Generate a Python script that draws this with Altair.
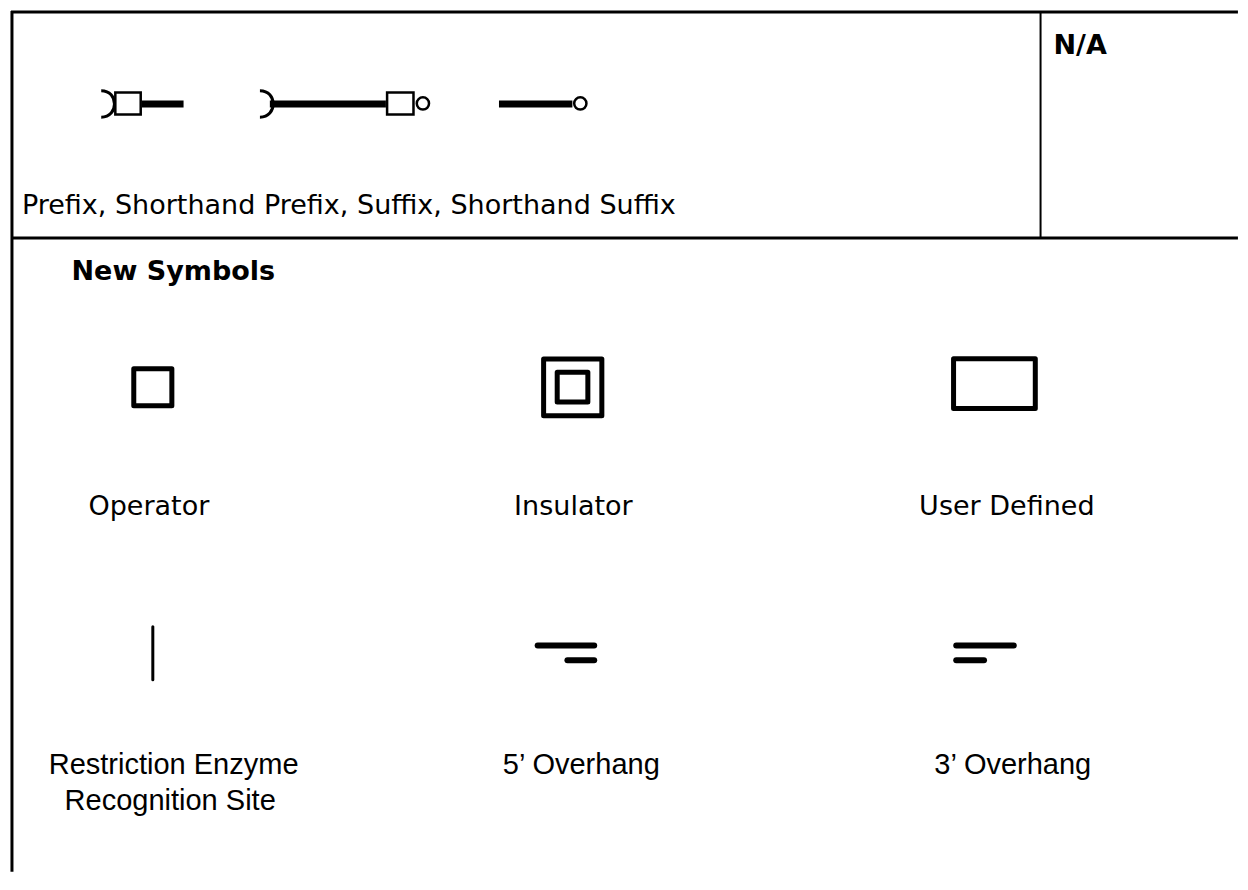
import altair as alt
import pandas as pd

# ---------------- page frame (page coordinates, y grows downward) ----------------
frame_x1 = [11, 12, 12]
frame_y1 = [12, 11, 243]
frame_x2 = [1248, 12, 1248]
frame_y2 = [12, 890, 243]
divider_x1 = [1049]
divider_y1 = [12]
divider_x2 = [1049]
divider_y2 = [243]

# ---------------- prefix / suffix glyphs (top row) ----------------
bar_x1 = [143, 272, 503]
bar_x2 = [185, 389, 577]
bar_y1 = [102.5, 102.5, 102.5]
bar_y2 = [109.5, 109.5, 109.5]

pbox_x1 = [116.2, 390.2]
pbox_x2 = [141.8, 416.8]
pbox_y1 = [94.2, 94.2]
pbox_y2 = [116.8, 116.8]

circ_x = [426.3, 585.0]
circ_y = [105.5, 105.5]

arc_x = [102, 262]
arc_y = [106, 106]

# ---------------- new symbols ----------------
box_x1 = [134.8, 548.0, 561.7, 961.3]
box_x2 = [173.2, 606.7, 592.6, 1043.7]
box_y1 = [376.5, 366.5, 380.0, 366.3]
box_y2 = [414.2, 424.3, 410.4, 417.0]

site_x = [154]
site_y1 = [640]
site_y2 = [694]

ovh_x1 = [542, 572, 964, 964]
ovh_x2 = [599, 599, 1022, 992]
ovh_y = [659, 674, 659, 674]

# ---------------- texts ----------------
verd_labels = ["Operator", "Insulator", "User Defined"]
verd_x = [150, 578, 1015]
verd_y = [526, 526, 526]

left_labels = ["Prefix, Shorthand Prefix, Suffix, Shorthand Suffix"]
left_x = [22]
left_y = [218]

bold_labels = ["N/A", "New Symbols"]
bold_x = [1062, 72]
bold_y = [55, 286]

arial_labels = ["Restriction Enzyme", "Recognition Site", "5\u2019 Overhang", "3\u2019 Overhang"]
arial_x = [175, 171.5, 586, 1021]
arial_y = [790, 827, 790, 790]

# ---------------- scales ----------------
XS = alt.Scale(domain=[8, 1240], zero=False, nice=False)
YS = alt.Scale(domain=[8, 874], zero=False, nice=False, reverse=True)


def X(f="x"):
    return alt.X(f"{f}:Q", scale=XS, axis=None)


def Y(f="y"):
    return alt.Y(f"{f}:Q", scale=YS, axis=None)


frame = alt.Chart(pd.DataFrame({"x": frame_x1, "y": frame_y1, "x2": frame_x2, "y2": frame_y2})).mark_rule(
    color="black", strokeWidth=3
).encode(x=X(), y=Y(), x2="x2:Q", y2="y2:Q")

divider = alt.Chart(pd.DataFrame({"x": divider_x1, "y": divider_y1, "x2": divider_x2, "y2": divider_y2})).mark_rule(
    color="black", strokeWidth=2
).encode(x=X(), y=Y(), x2="x2:Q", y2="y2:Q")

bars = alt.Chart(pd.DataFrame({"x": bar_x1, "x2": bar_x2, "y": bar_y1, "y2": bar_y2})).mark_rect(
    color="black"
).encode(x=X(), x2="x2:Q", y=Y(), y2="y2:Q")

pboxes = alt.Chart(pd.DataFrame({"x": pbox_x1, "x2": pbox_x2, "y": pbox_y1, "y2": pbox_y2})).mark_rect(
    fill="white", stroke="black", strokeWidth=2.5
).encode(x=X(), x2="x2:Q", y=Y(), y2="y2:Q")

circles = alt.Chart(pd.DataFrame({"x": circ_x, "y": circ_y})).mark_point(
    shape="circle", filled=False, color="black", strokeWidth=2.5, size=150, opacity=1
).encode(x=X(), y=Y())

arcs = alt.Chart(pd.DataFrame({"x": arc_x, "y": arc_y})).mark_point(
    shape="M 0 -1 C 1.333 -1 1.333 1 0 1", filled=False, color="black", strokeWidth=3, size=700, opacity=1
).encode(x=X(), y=Y())

boxes = alt.Chart(pd.DataFrame({"x": box_x1, "x2": box_x2, "y": box_y1, "y2": box_y2})).mark_rect(
    fill="white", fillOpacity=0, stroke="black", strokeWidth=5, strokeJoin="round"
).encode(x=X(), x2="x2:Q", y=Y(), y2="y2:Q")

site = alt.Chart(pd.DataFrame({"x": site_x, "y": site_y1, "y2": site_y2})).mark_rule(
    color="black", strokeWidth=3, strokeCap="round"
).encode(x=X(), y=Y(), y2="y2:Q")

overhang = alt.Chart(pd.DataFrame({"x": ovh_x1, "x2": ovh_x2, "y": ovh_y})).mark_rule(
    color="black", strokeWidth=6, strokeCap="round"
).encode(x=X(), x2="x2:Q", y=Y())

verd_text = alt.Chart(pd.DataFrame({"x": verd_x, "y": verd_y, "label": verd_labels})).mark_text(
    font="Verdana, DejaVu Sans", fontSize=27, align="center", baseline="alphabetic", color="black"
).encode(x=X(), y=Y(), text="label:N")

left_text = alt.Chart(pd.DataFrame({"x": left_x, "y": left_y, "label": left_labels})).mark_text(
    font="Verdana, DejaVu Sans", fontSize=27, align="left", baseline="alphabetic", color="black"
).encode(x=X(), y=Y(), text="label:N")

bold_text = alt.Chart(pd.DataFrame({"x": bold_x, "y": bold_y, "label": bold_labels})).mark_text(
    font="Verdana, DejaVu Sans", fontSize=27, fontWeight="bold", align="left", baseline="alphabetic", color="black"
).encode(x=X(), y=Y(), text="label:N")

arial_text = alt.Chart(pd.DataFrame({"x": arial_x, "y": arial_y, "label": arial_labels})).mark_text(
    font="Arial, Liberation Sans", fontSize=29, align="center", baseline="alphabetic", color="black"
).encode(x=X(), y=Y(), text="label:N")

chart = alt.layer(
    frame, divider, bars, pboxes, circles, arcs, boxes, site, overhang,
    verd_text, left_text, bold_text, arial_text,
).properties(
    width=1232, height=866, padding=0,
    autosize=alt.AutoSizeParams(type="fit", contains="padding"),
).configure(background="white").configure_view(strokeWidth=0, strokeOpacity=0)

chart.save("out.html", embed_options={"renderer": "svg", "actions": False})
